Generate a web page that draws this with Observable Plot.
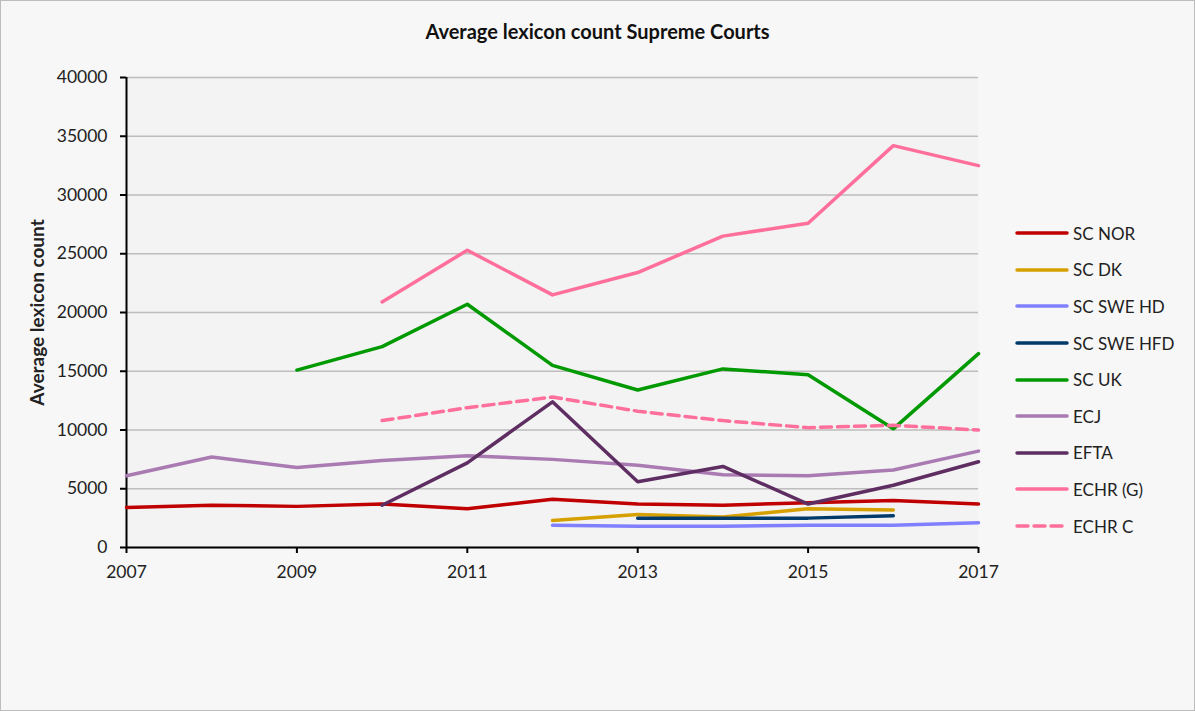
<!DOCTYPE html>
<html>
<head>
<meta charset="utf-8">
<script src="https://cdn.jsdelivr.net/npm/d3@7"></script>
<script src="https://cdn.jsdelivr.net/npm/@observablehq/plot@0.6"></script>
<style>
  body { margin: 0; background: #ffffff; font-family: Lato, "Open Sans", sans-serif; }
  #chart { position: relative; width: 1195px; height: 711px; background: #f7f7f7;
           outline: 1px solid #bdbdbd; outline-offset: -1px; overflow: hidden; }
  #title { height: 56px; box-sizing: border-box; padding-top: 19px; text-align: center;
           font-size: 20px; line-height: 24px; font-weight: bold; color: #111; }
  #legend { position: absolute; left: 1015px; top: 215px; font-size: 17px; color: #222; }
  .row { display: flex; align-items: center; height: 36.6px; }
  .row svg { margin-right: 4px; }
  g[aria-label="y-axis label"] text { font-weight: bold; font-size: 19px; }
</style>
</head>
<body>
<div id="chart">
  <div id="title">Average lexicon count Supreme Courts</div>
  <div id="plot"></div>
  <div id="legend"></div>
</div>
<script>
const years = [2007, 2008, 2009, 2010, 2011, 2012, 2013, 2014, 2015, 2016, 2017];
const seriesNames = ["SC NOR", "SC DK", "SC SWE HD", "SC SWE HFD", "SC UK", "ECJ", "EFTA", "ECHR (G)", "ECHR C"];
const seriesColors = ["#c00000", "#d6a000", "#8080ff", "#003a6b", "#009a00", "#a97bb2", "#5e2d62", "#ff6f9c", "#ff6f9c"];
const dashedSeries = ["ECHR C"];

const scNor    = [3400, 3600, 3500, 3700, 3300, 4100, 3700, 3600, 3800, 4000, 3700];
const scDk     = [null, null, null, null, null, 2300, 2800, 2600, 3300, 3200, null];
const scSweHd  = [null, null, null, null, null, 1900, 1800, 1800, 1900, 1900, 2100];
const scSweHfd = [null, null, null, null, null, null, 2500, 2500, 2500, 2700, null];
const scUk     = [null, null, 15100, 17100, 20700, 15500, 13400, 15200, 14700, 10100, 16500];
const ecj      = [6100, 7700, 6800, 7400, 7800, 7500, 7000, 6200, 6100, 6600, 8200];
const efta     = [null, null, null, 3600, 7200, 12400, 5600, 6900, 3700, 5300, 7300];
const echrG    = [null, null, null, 20900, 25300, 21500, 23400, 26500, 27600, 34200, 32500];
const echrC    = [null, null, null, 10800, 11900, 12800, 11600, 10800, 10200, 10400, 10000];

const yTicks = [0, 5000, 10000, 15000, 20000, 25000, 30000, 35000, 40000];
const xTicks = [2007, 2009, 2011, 2013, 2015, 2017];

const seriesValues = [scNor, scDk, scSweHd, scSweHfd, scUk, ecj, efta, echrG, echrC];
const rows = [];
seriesNames.forEach((name, i) => {
  seriesValues[i].forEach((v, j) => {
    if (v != null) rows.push({series: name, year: years[j], value: v});
  });
});
const solidRows = rows.filter(d => !dashedSeries.includes(d.series));
const dashedRows = rows.filter(d => dashedSeries.includes(d.series));

const chart = Plot.plot({
  width: 1195,
  height: 655,
  marginLeft: 126,
  marginRight: 217,
  marginTop: 21,
  marginBottom: 164,
  style: {background: "transparent", fontFamily: "Lato, 'Open Sans', sans-serif", fontSize: "17.5px", color: "#222"},
  x: {domain: [2007, 2017]},
  y: {domain: [0, 40000]},
  color: {domain: seriesNames, range: seriesColors},
  marks: [
    Plot.frame({fill: "#f3f3f3", stroke: "none"}),
    Plot.gridY(yTicks, {stroke: "#bdbdbd", strokeOpacity: 1, strokeWidth: 1.5}),
    Plot.axisY({ticks: yTicks, tickSize: 6, tickPadding: 13, tickFormat: d => String(d),
                stroke: "#000", strokeWidth: 2, label: "Average lexicon count", labelArrow: "none",
                labelAnchor: "center", labelOffset: 96, fill: "#222"}),
    Plot.axisX({ticks: xTicks, tickSize: 6, tickPadding: 12, tickFormat: d => String(d),
                stroke: "#000", strokeWidth: 2, label: null, fill: "#222"}),
    Plot.ruleX([2007], {stroke: "#000", strokeWidth: 2}),
    Plot.ruleY([0], {stroke: "#000", strokeWidth: 2}),
    Plot.line(solidRows, {x: "year", y: "value", z: "series", stroke: "series", strokeWidth: 3.5}),
    Plot.line(dashedRows, {x: "year", y: "value", z: "series", stroke: "series", strokeWidth: 3.5, strokeDasharray: "11,6"})
  ]
});
document.getElementById("plot").appendChild(chart);

const legend = document.getElementById("legend");
seriesNames.forEach((name, i) => {
  const row = document.createElement("div");
  row.className = "row";
  const dash = dashedSeries.includes(name) ? ' stroke-dasharray="11,6"' : '';
  row.innerHTML = `<svg width="54" height="8"><line x1="2" y1="4" x2="52" y2="4" stroke="${seriesColors[i]}" stroke-width="3.5" stroke-linecap="round"${dash}/></svg><span>${name}</span>`;
  legend.appendChild(row);
});
</script>
</body>
</html>
